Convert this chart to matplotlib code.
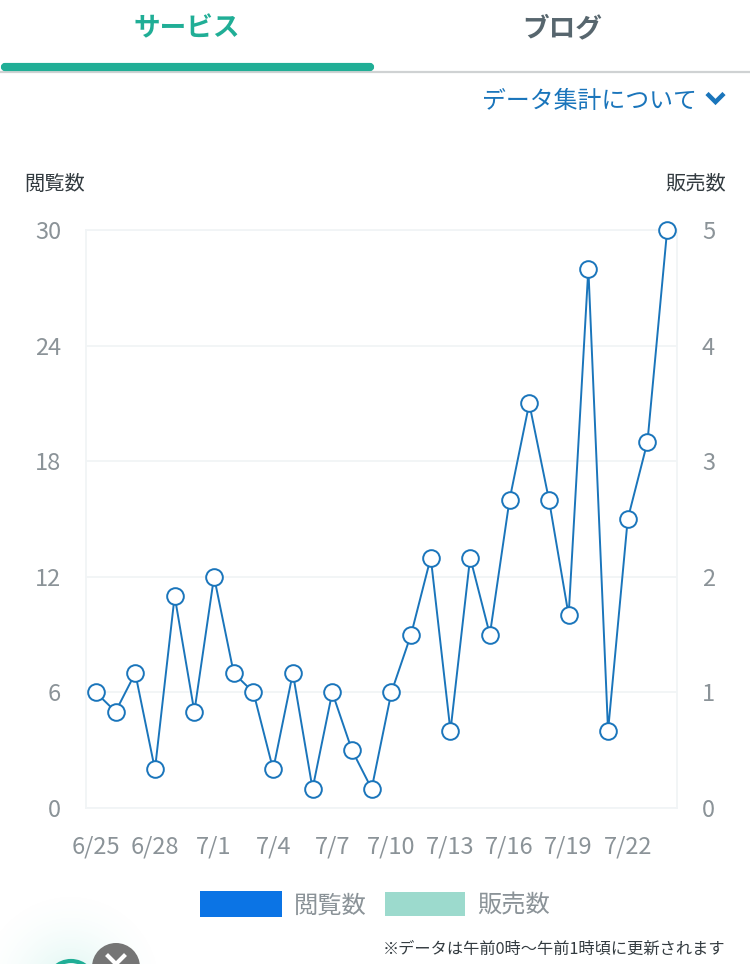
import numpy as np
import matplotlib
matplotlib.use('Agg')
import matplotlib.pyplot as plt
from matplotlib.patches import Circle, FancyBboxPatch, Rectangle

plt.rcParams['font.family'] = ['Noto Sans CJK JP', 'DejaVu Sans']

# data
dates = ['6/25', '6/26', '6/27', '6/28', '6/29', '6/30', '7/1', '7/2', '7/3', '7/4',
         '7/5', '7/6', '7/7', '7/8', '7/9', '7/10', '7/11', '7/12', '7/13', '7/14',
         '7/15', '7/16', '7/17', '7/18', '7/19', '7/20', '7/21', '7/22', '7/23', '7/24']
views = [6, 5, 7, 2, 11, 5, 12, 7, 6, 2, 7, 1, 6, 3, 1, 6, 9, 13, 4, 13,
         9, 16, 21, 16, 10, 28, 4, 15, 19, 30]
left_ticks = [0, 6, 12, 18, 24, 30]
right_ticks = [0, 1, 2, 3, 4, 5]
legend_names = ['閲覧数', '販売数']

W, H = 750, 964
BLUE = '#1a75bb'
TEAL = '#20ae96'
GREY = '#8b9398'
GRID = '#f1f4f6'

fig = plt.figure(figsize=(W / 100, H / 100), dpi=100)

# page layer in pixel coordinates
bg = fig.add_axes([0, 0, 1, 1])
bg.axis('off')

# soft teal glow, bottom left
yy, xx = np.mgrid[880:964, 0:220]
dist = np.hypot(xx - 70, yy - 985)
glow = np.clip(1 - dist / 100, 0, 1) ** 2 * 0.3
rgba = np.zeros(glow.shape + (4,))
rgba[..., :3] = matplotlib.colors.to_rgb('#7fdccb')
rgba[..., 3] = glow
bg.imshow(rgba, extent=(0, 220, 964, 880), aspect='auto', zorder=0)
bg.set_xlim(0, W)
bg.set_ylim(H, 0)

# tabs
bg.plot([0, W], [72, 72], color='#cfd2d3', lw=1.6, zorder=1)
bg.add_patch(FancyBboxPatch((3, 65), 369, 4, boxstyle='round,pad=0,rounding_size=2',
                            mutation_aspect=1, fc=TEAL, ec=TEAL, lw=3, zorder=2))
bg.text(187, 29, 'サービス', color=TEAL, fontsize=19.2, fontweight='bold', ha='center', va='center')
bg.text(562, 29, 'ブログ', color='#57666e', fontsize=19.2, fontweight='bold', ha='center', va='center')

# data note link
bg.text(697, 101, 'データ集計について', color=BLUE, fontsize=17.2, ha='right', va='center')
bg.plot([707, 715.5, 724], [93.5, 102, 93.5], color=BLUE, lw=3.2, solid_capstyle='butt', solid_joinstyle='miter')

# axis names
bg.text(24, 184, legend_names[0], color='#333b40', fontsize=14.6, ha='left', va='center')
bg.text(726, 184, legend_names[1], color='#333b40', fontsize=14.6, ha='right', va='center')

# chart
ax = fig.add_axes([86 / W, 1 - 808 / H, 591 / W, 578 / H], zorder=3)
ax.patch.set_alpha(0)
x = np.arange(len(views))
ax.plot(x, views, color=BLUE, lw=1.4, marker='o', ms=12, mfc='white', mec=BLUE, mew=1.4,
        clip_on=False, zorder=4)
ax.set_xlim(-0.5, len(views) - 0.5)
ax.set_ylim(0, 30)
ax.set_yticks(left_ticks)
ax.set_xticks(x[::3])
ax.set_xticklabels(dates[::3])
ax.grid(axis='y', color=GRID, lw=1.3)
ax.set_axisbelow(True)
for s in ax.spines.values():
    s.set_color(GRID)
    s.set_linewidth(1.3)
ax.tick_params(axis='both', length=0, labelcolor=GREY, labelsize=17)
ax.tick_params(axis='y', pad=18)
ax.tick_params(axis='x', pad=20, labelsize=17)

ax2 = ax.twinx()
ax2.set_ylim(0, 5)
ax2.set_yticks(right_ticks)
ax2.tick_params(axis='y', length=0, labelcolor=GREY, labelsize=17, pad=18)
for s in ax2.spines.values():
    s.set_visible(False)

# legend
bg.add_patch(Rectangle((200, 891), 82, 26, fc='#0b74e5', ec='none'))
bg.text(294, 906, legend_names[0], color=GREY, fontsize=17.5, ha='left', va='center')
bg.add_patch(Rectangle((385, 892), 80, 24, fc='#9cdacd', ec='none'))
bg.text(477, 906, legend_names[1], color=GREY, fontsize=17.5, ha='left', va='center')

# footnote
bg.text(725, 949, '※データは午前0時～午前1時頃に更新されます', color='#333b40', fontsize=11.7, ha='right', va='center')

# close button
bg.add_patch(Circle((71, 985), 24, fc='white', ec=TEAL, lw=3, zorder=3))
bg.add_patch(Circle((116, 967), 24, fc='#757575', ec='none', zorder=4))
bg.plot([108, 124], [956, 972], color='white', lw=3, zorder=5)
bg.plot([108, 124], [972, 956], color='white', lw=3, zorder=5)

fig.savefig('out.png', dpi=100)
